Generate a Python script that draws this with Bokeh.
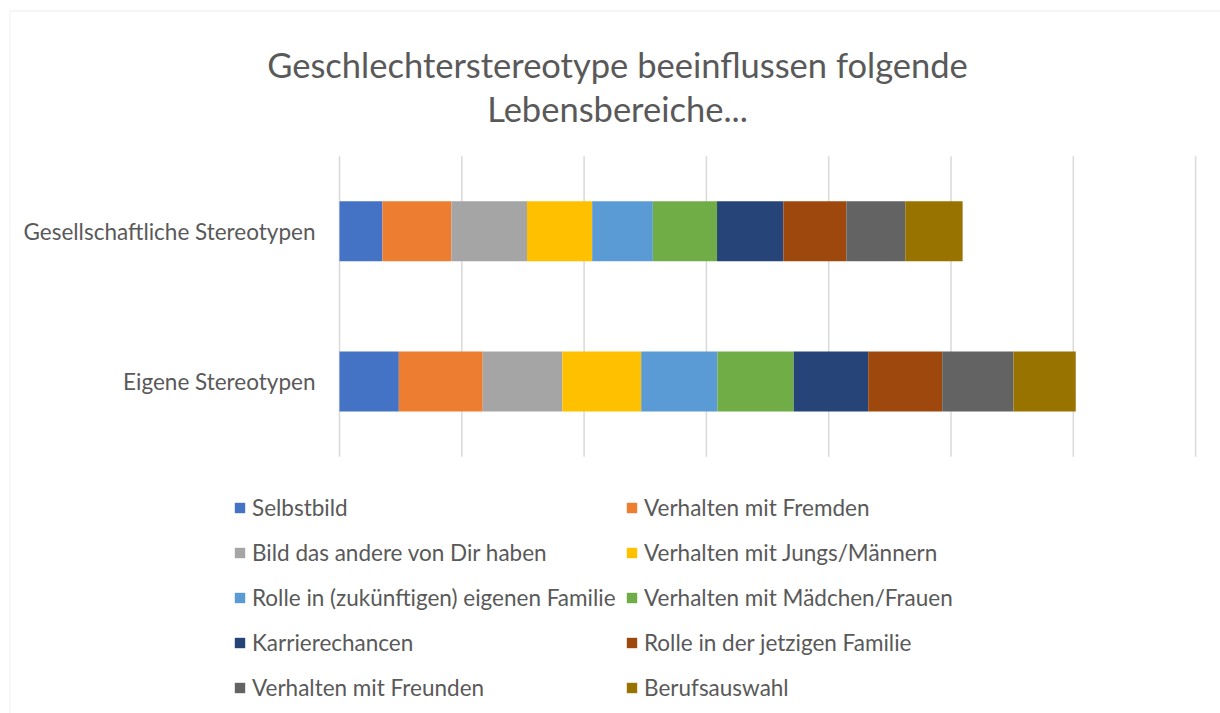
from bokeh.plotting import figure
from bokeh.models import (ColumnDataSource, Range1d, Legend, LegendItem, BoxAnnotation)
from bokeh.core.properties import value
from bokeh.embed import file_html
from bokeh.resources import INLINE

categories = ["Eigene Stereotypen", "Gesellschaftliche Stereotypen"]
series = ["Selbstbild", "Verhalten mit Fremden", "Bild das andere von Dir haben",
          "Verhalten mit Jungs/Männern", "Rolle in (zukünftigen) eigenen Familie",
          "Verhalten mit Mädchen/Frauen", "Karrierechancen", "Rolle in der jetzigen Familie",
          "Verhalten mit Freunden", "Berufsauswahl"]
colors = ["#4472C4", "#ED7D31", "#A5A5A5", "#FFC000", "#5B9BD5",
          "#70AD47", "#264478", "#9E480E", "#636363", "#997300"]
eigene = [4.85, 6.86, 6.51, 6.45, 6.23, 6.24, 6.09, 6.05, 5.83, 5.09]
gesellschaftliche = [3.51, 5.64, 6.18, 5.33, 4.96, 5.25, 5.42, 5.15, 4.82, 4.69]
grid_ticks = [0, 10, 20, 30, 40, 50, 60, 70]
title_lines = ["Geschlechterstereotype beeinflussen folgende", "Lebensbereiche..."]

FONT = "Lato"
TXT = "#595959"
W, H = 1220, 713

# layout: pixel position of value 0 and px per unit; category band in px
X0_PX, X_UNIT = 339.0, 12.23
CAT0_PX, BAND = 381.0, 150.25

def xd(px):
    return (px - X0_PX) / X_UNIT

def yd(py):
    return (CAT0_PX - py) / BAND

cat_pos = list(range(len(categories)))
data = {"y": cat_pos, "cat": categories}
for i, s in enumerate(series):
    data[s] = [eigene[i], gesellschaftliche[i]]
source = ColumnDataSource(data)

p = figure(width=W, height=H, x_range=Range1d(xd(0), xd(W)), y_range=Range1d(yd(H), yd(0)),
           output_backend="svg", toolbar_location=None, title=None,
           min_border_left=0, min_border_right=0, min_border_top=0, min_border_bottom=0,
           x_axis_location=None, y_axis_location=None)
p.background_fill_color = "white"
p.border_fill_color = "white"
p.outline_line_color = None
p.grid.visible = False

# gridlines
p.segment(x0=grid_ticks, x1=grid_ticks, y0=[-0.5] * len(grid_ticks), y1=[1.5] * len(grid_ticks),
          line_color="#d9d9d9", line_width=1.5)

renderers = p.hbar_stack(series, y="y", height=0.4, fill_color=colors,
                         line_color=None, source=source)

# category labels
p.text(x=[0, 0], y=cat_pos, text=categories, x_offset=-24, text_align="right",
       text_baseline="middle", text_font=value(FONT), text_font_size="22.5px",
       text_color=TXT)

# title
p.text(x=[xd(617), xd(617)], y=[yd(64), yd(108)], text=title_lines,
       text_align="center", text_baseline="alphabetic", text_font=value(FONT),
       text_font_size="34.5px", text_color=TXT)

def make_legend(idx, loc):
    items = [LegendItem(label=series[i], renderers=[renderers[i]]) for i in idx]
    return Legend(items=items, location=loc, orientation="vertical",
                  glyph_width=13, glyph_height=13, label_standoff=6,
                  label_height=28, spacing=17, padding=0, margin=0,
                  border_line_color=None, background_fill_alpha=0,
                  label_text_font=FONT, label_text_font_size="22.5px",
                  label_text_color=TXT)

p.add_layout(make_legend([0, 2, 4, 6, 8], (233, 12)), "center")
p.add_layout(make_legend([1, 3, 5, 7, 9], (625, 12)), "center")

# outer chart border
p.add_layout(BoxAnnotation(left=xd(9.5), top=yd(10.5), right=xd(W + 20), bottom=yd(H + 20),
                           fill_alpha=0, line_color="#d9d9d9", line_width=1.3))

open("out.html", "w").write(file_html(p, INLINE))
